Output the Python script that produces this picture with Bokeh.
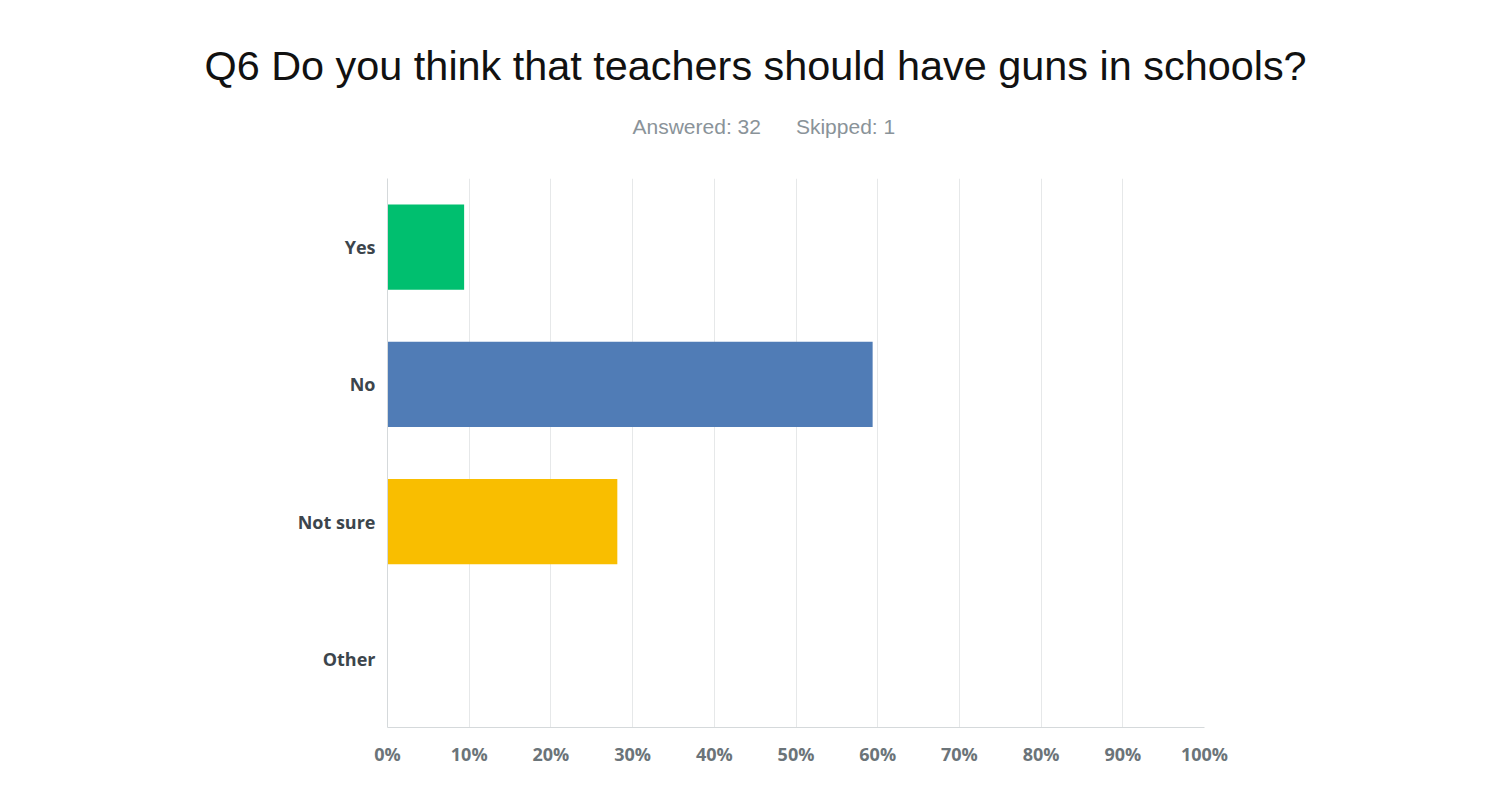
from bokeh.plotting import figure
from bokeh.models import FactorRange, Range1d, FixedTicker, Title, ColumnDataSource
from bokeh.embed import file_html
from bokeh.resources import INLINE

# ---- data ----
categories = ["Yes", "No", "Not sure", "Other"]
percent = [9.38, 59.38, 28.13, 0.0]
colors = ["#00BF6F", "#507CB6", "#F9BE00", "#A6A6A6"]
tick_values = [0, 10, 20, 30, 40, 50, 60, 70, 80, 90, 100]
tick_labels = ["0%", "10%", "20%", "30%", "40%", "50%", "60%", "70%", "80%", "90%", "100%"]
title_text = "Q6 Do you think that teachers should have guns in schools?"
subtitle_text = "Answered: 32\u00a0\u00a0\u00a0\u00a0\u00a0\u00a0Skipped: 1"

source = ColumnDataSource(dict(cat=categories, val=percent, color=colors))

p = figure(
    y_range=FactorRange(factors=list(reversed(categories)), range_padding=0),
    x_range=Range1d(0, 100),
    frame_width=817, frame_height=549,
    min_border_left=387, min_border_right=300,
    min_border_top=178, min_border_bottom=55,
    output_backend="svg", toolbar_location=None,
    background_fill_color="white", border_fill_color="white",
)
p.outline_line_color = None

p.hbar(y="cat", right="val", left=0, height=0.62, color="color", line_color=None, source=source)

# main title (outermost)
p.title.text = title_text
p.title.text_font = "Liberation Sans"
p.title.text_font_size = "41.4px"
p.title.text_font_style = "normal"
p.title.text_color = "#111111"
p.title.align = "left"
p.title.offset = -183
p.title.standoff = 27

# invisible spacer between subtitle and frame
spacer = Title(text="\u00a0", text_font_size="1px", standoff=28, text_color="white")
p.add_layout(spacer, "above")

# subtitle
sub = Title(text=subtitle_text, align="left", text_font="Liberation Sans",
            text_font_size="21px", text_font_style="normal", text_color="#8a9399",
            offset=245, standoff=20)
p.add_layout(sub, "above")

# x axis
p.xaxis.ticker = FixedTicker(ticks=tick_values)
p.xaxis.major_label_overrides = {v: l for v, l in zip(tick_values, tick_labels)}
p.xaxis.major_tick_line_color = None
p.xaxis.minor_tick_line_color = None
p.xaxis.axis_line_color = "#d5d9db"
p.xaxis.major_label_text_font = "Open Sans"
p.xaxis.major_label_text_font_style = "bold"
p.xaxis.major_label_text_font_size = "18px"
p.xaxis.major_label_text_color = "#6b7479"
p.xaxis.major_label_standoff = 8

# y axis
p.yaxis.major_tick_line_color = None
p.yaxis.minor_tick_line_color = None
p.yaxis.axis_line_color = "#d5d9db"
p.yaxis.major_label_text_font = "Open Sans"
p.yaxis.major_label_text_font_style = "bold"
p.yaxis.major_label_text_font_size = "18px"
p.yaxis.major_label_text_color = "#3c454c"
p.yaxis.major_label_standoff = 6

p.xgrid.grid_line_color = "#e6e8e9"
p.ygrid.grid_line_color = None

open("out.html", "w").write(file_html(p, INLINE))
